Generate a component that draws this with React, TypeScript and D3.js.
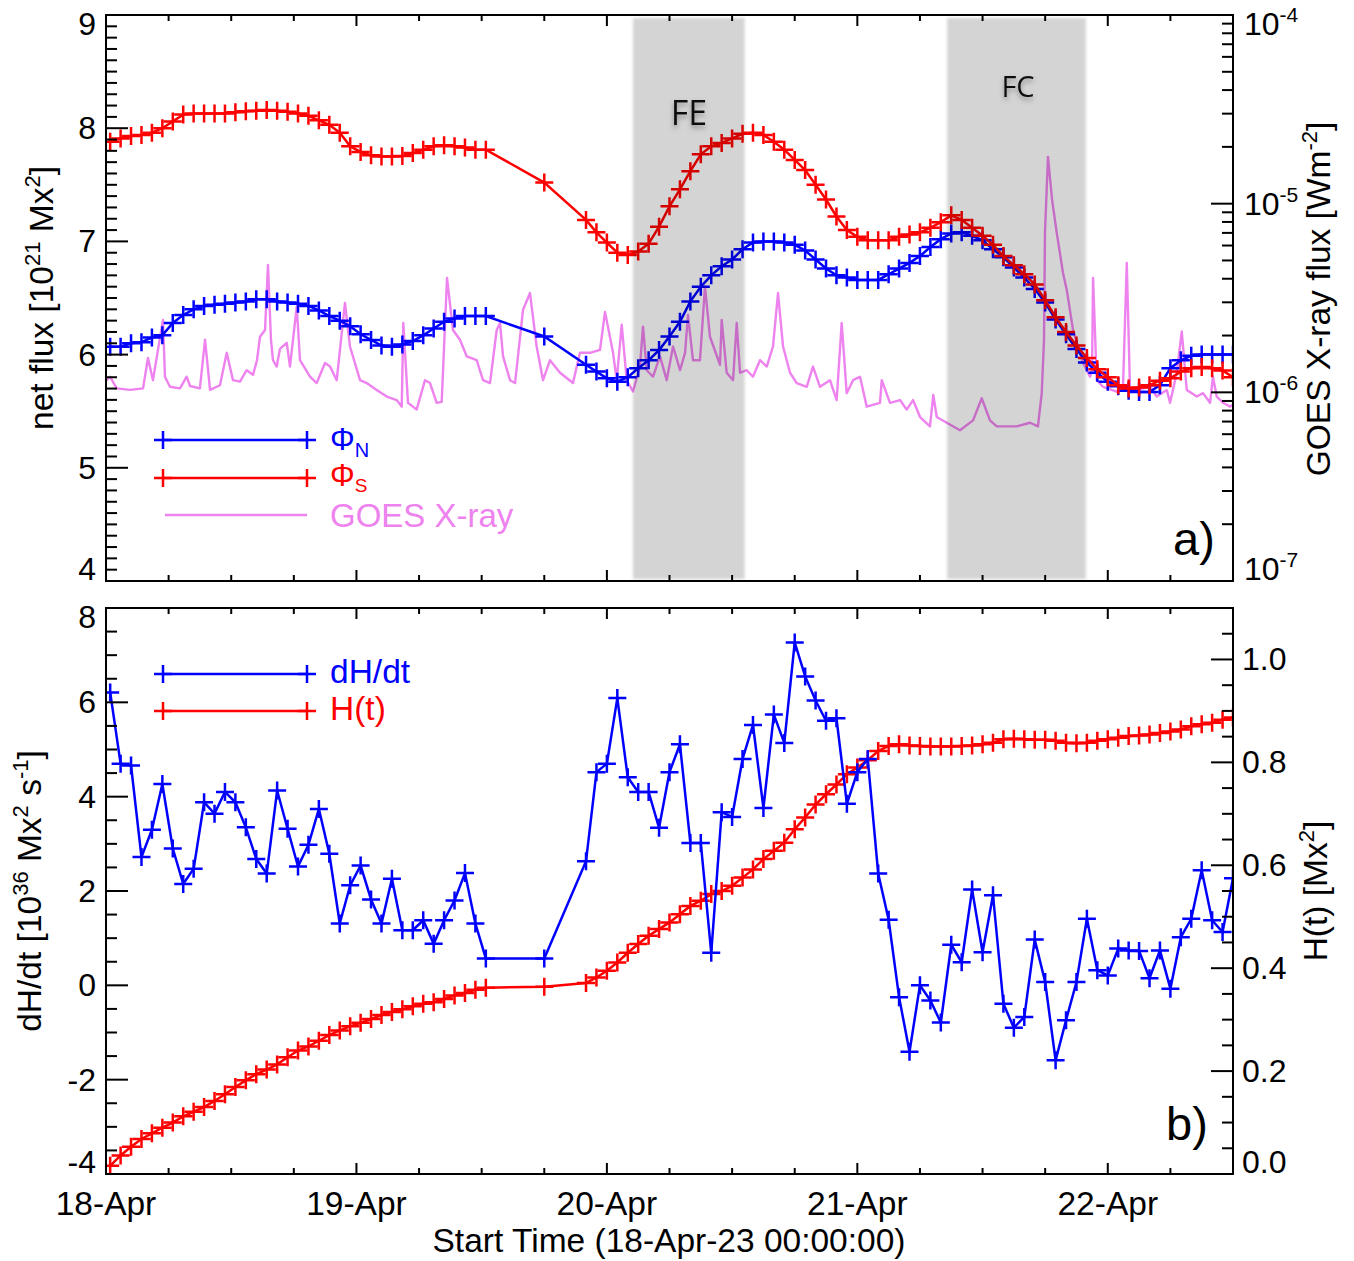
import React from 'react';
import * as d3 from 'd3';

// ---------- data ----------
// time in hours since 18-Apr 00:00
const hours: number[] = [
  0.4, 1.4, 2.4, 3.4, 4.4, 5.4, 6.4, 7.4, 8.4, 9.4, 10.4, 11.4, 12.4, 13.4, 14.4, 15.4, 16.4, 17.4, 18.4,
  19.4, 20.4, 21.4, 22.4, 23.4, 24.4, 25.4, 26.4, 27.4, 28.4, 29.4, 30.4, 31.4, 32.4, 33.4, 34.4, 35.4, 36.4,
  42,
  46, 47, 48, 49, 50, 51, 52, 53, 54, 55, 56, 57, 58, 59, 60, 61, 62, 63, 64, 65, 66, 67, 68, 69, 70,
  71, 72, 73, 74, 75, 76, 77, 78, 79, 80, 81, 82, 83, 84, 85, 86, 87, 88, 89, 90, 91, 92, 93, 94, 95,
  96, 97, 98, 99, 100, 101, 102, 103, 104, 105, 106, 107, 108,
];

// net flux, 10^21 Mx^2
const phiN: number[] = [
  6.07, 6.07, 6.10, 6.11, 6.15, 6.17, 6.28, 6.35, 6.40, 6.43, 6.44, 6.45, 6.46, 6.47, 6.49, 6.49, 6.47, 6.46, 6.45,
  6.43, 6.39, 6.34, 6.30, 6.25, 6.18, 6.13, 6.08, 6.07, 6.09, 6.12, 6.17, 6.23, 6.29, 6.32, 6.34, 6.34, 6.34,
  6.16,
  5.91, 5.85, 5.79, 5.76, 5.80, 5.88, 5.95, 6.04, 6.16, 6.29, 6.47, 6.60, 6.70, 6.78, 6.84, 6.93, 6.99, 7.00, 7.00,
  6.99, 6.97, 6.92, 6.84, 6.76, 6.70, 6.68, 6.66, 6.66, 6.66, 6.71, 6.76, 6.81, 6.87, 6.95, 7.02, 7.07, 7.08, 7.05,
  7.01, 6.93, 6.86, 6.77, 6.68, 6.58, 6.46, 6.31, 6.18, 6.05, 5.93, 5.84, 5.76, 5.72, 5.68, 5.67, 5.67, 5.73, 5.88,
  5.95, 5.99, 6.00, 6.00, 6.00, 6.00,
];
const phiS: number[] = [
  7.88, 7.91, 7.93, 7.94, 7.96, 8.00, 8.06, 8.12, 8.13, 8.13, 8.13, 8.13, 8.14, 8.15, 8.155, 8.16, 8.155, 8.145, 8.13,
  8.11, 8.07, 8.03, 7.96, 7.84, 7.79, 7.76, 7.75, 7.75, 7.755, 7.78, 7.81, 7.84, 7.85, 7.84, 7.83, 7.81, 7.81,
  7.52,
  7.19, 7.08, 6.99, 6.90, 6.88, 6.91, 6.98, 7.13, 7.31, 7.46, 7.62, 7.77, 7.84, 7.87, 7.91, 7.95, 7.96, 7.94, 7.88,
  7.81, 7.72, 7.63, 7.50, 7.37, 7.22, 7.10, 7.04, 7.01, 7.01, 7.01, 7.04, 7.06, 7.08, 7.12, 7.17, 7.23, 7.19, 7.12,
  7.05, 6.97, 6.87, 6.79, 6.71, 6.62, 6.48, 6.33, 6.20, 6.08, 5.97, 5.87, 5.80, 5.73, 5.70, 5.71, 5.73, 5.77, 5.79,
  5.85, 5.88, 5.89, 5.88, 5.86, 5.80,
];

// helicity injection rate, 10^36 Mx^2 s^-1
const dHdt: number[] = [
  6.21, 4.70, 4.66, 2.72, 3.30, 4.27, 2.90, 2.15, 2.47, 3.88, 3.64, 4.10, 3.88, 3.35, 2.68, 2.37, 4.13, 3.32, 2.52,
  2.98, 3.74, 2.79, 1.31, 2.12, 2.54, 1.82, 1.31, 2.26, 1.17, 1.17, 1.38, 0.88, 1.38, 1.80, 2.38, 1.31, 0.57,
  0.57,
  2.63, 4.52, 4.70, 6.09, 4.41, 4.10, 4.10, 3.34, 4.52, 5.11, 3.02, 3.02, 0.69, 3.67, 3.57, 4.80, 5.52, 3.76, 5.74,
  5.14, 7.27, 6.55, 6.04, 5.61, 5.66, 3.85, 4.52, 4.80, 2.37, 1.39, -0.25, -1.41, 0.0, -0.32, -0.79, 0.86, 0.49, 2.03,
  0.70, 1.91, -0.39, -0.90, -0.67, 0.97, 0.07, -1.59, -0.74, 0.07, 1.41, 0.32, 0.21, 0.78, 0.74, 0.73, 0.15, 0.74,
  -0.07, 1.02, 1.41, 2.44, 1.38, 1.13, 2.27,
];
// accumulated helicity, Mx^2 (right axis)
const helicity: number[] = [
  0.016, 0.036, 0.053, 0.068, 0.079, 0.090, 0.100, 0.112, 0.121, 0.130, 0.142, 0.155, 0.169, 0.182, 0.194, 0.203,
  0.213, 0.227, 0.240, 0.248, 0.259, 0.270, 0.279, 0.287, 0.294, 0.301, 0.309, 0.315, 0.320, 0.326, 0.331, 0.334,
  0.340, 0.347, 0.352, 0.358, 0.362,
  0.364,
  0.371, 0.382, 0.395, 0.411, 0.430, 0.447, 0.463, 0.476, 0.489, 0.505, 0.521, 0.531, 0.544, 0.550, 0.560, 0.576,
  0.592, 0.612, 0.628, 0.644, 0.670, 0.693, 0.718, 0.738, 0.757, 0.777, 0.790, 0.804, 0.822, 0.832, 0.835, 0.833,
  0.832, 0.831, 0.831, 0.831, 0.832, 0.833, 0.835, 0.838, 0.845, 0.846, 0.845, 0.844, 0.844, 0.842, 0.838, 0.837,
  0.838, 0.842, 0.845, 0.848, 0.851, 0.852, 0.854, 0.857, 0.860, 0.864, 0.870, 0.874, 0.877, 0.883, 0.887,
];

// GOES X-ray flux (W m^-2)
const goesHours: number[] = [
  0.07, 0.38, 1.03, 2.3, 3.55, 4.02, 4.5, 5.46, 5.65, 6.13, 7.09, 7.73, 8.05, 9.0, 9.49, 9.97, 10.92, 11.57, 12.17,
  12.84, 13.48, 14.09, 14.47, 14.76, 15.24, 15.52, 15.81, 16.0, 16.36, 16.67, 17.32, 17.63, 18.28, 18.59, 19.55,
  20.19, 20.99, 21.47, 22.11, 22.9, 23.38, 24.34, 24.98, 25.94, 26.9, 27.86, 28.34, 28.49, 28.94, 29.77, 30.57,
  31.05, 31.69, 32.17, 32.68, 33.25, 33.92, 34.57, 35.52, 36.13, 36.8, 37.44, 37.76, 38.05, 38.72, 39.2, 39.96,
  40.63, 41.27, 41.88, 42.55, 43.51, 44.75, 45.42, 46.38, 47.34, 47.82, 48.59, 48.94, 49.42, 49.9, 50.5, 51.17,
  51.46, 51.82, 52.42, 53.09, 53.73, 54.34, 55.01, 55.49, 55.77, 56.25, 56.92, 57.4, 57.88, 58.84, 59.0, 59.48,
  60.09, 60.44, 60.76, 61.4, 62.0, 62.67, 63.32, 63.92, 64.4, 64.88, 65.55, 66.19, 67.15, 67.75, 68.42, 69.38,
  70.02, 70.5, 70.98, 71.59, 72.26, 72.9, 74.17, 74.34, 75.13, 76.09, 76.73, 77.34, 78.01, 78.96, 79.28, 79.61,
  80.57, 81.84, 83.09, 83.92, 84.71, 85.36, 87.27, 88.55, 89.31, 89.67, 89.89, 89.98, 90.27, 90.66, 91.11, 91.71,
  92.07, 92.67, 93.63, 94.3, 94.49, 94.59, 94.94, 95.54, 96.86, 97.46, 97.82, 98.13, 98.77, 100.05, 100.69, 101.65,
  101.97, 102.61, 103.09, 103.57, 104.53, 105.13, 105.8, 106.08, 106.44, 107.05, 107.72, 108.0,
];
const goesFlux: number[] = [
  1.16e-6, 1.21e-6, 1.05e-6, 1.03e-6, 1.05e-6, 1.52e-6, 1.16e-6, 2.42e-6, 1.21e-6, 1.07e-6, 1.05e-6, 1.21e-6, 1.08e-6,
  1.05e-6, 1.90e-6, 1.03e-6, 1.09e-6, 1.62e-6, 1.16e-6, 1.14e-6, 1.31e-6, 1.24e-6, 1.48e-6, 1.97e-6, 2.14e-6, 4.73e-6,
  1.90e-6, 1.48e-6, 1.37e-6, 1.70e-6, 1.83e-6, 1.37e-6, 2.85e-6, 1.48e-6, 1.21e-6, 1.12e-6, 1.43e-6, 1.37e-6, 1.16e-6,
  2.98e-6, 1.75e-6, 1.16e-6, 1.12e-6, 1.03e-6, 9.5e-7, 9.1e-7, 8.4e-7, 2.33e-6, 8.8e-7, 8.1e-7, 1.16e-6, 1.12e-6,
  8.8e-7, 8.9e-7, 4.04e-6, 2.14e-6, 1.90e-6, 1.55e-6, 1.48e-6, 1.16e-6, 1.12e-6, 2.14e-6, 2.33e-6, 1.55e-6, 1.16e-6,
  1.12e-6, 2.73e-6, 3.36e-6, 1.75e-6, 1.16e-6, 1.48e-6, 1.27e-6, 1.12e-6, 1.62e-6, 1.62e-6, 1.68e-6, 2.67e-6, 1.62e-6,
  1.16e-6, 2.28e-6, 1.16e-6, 1.01e-6, 1.37e-6, 2.23e-6, 1.31e-6, 1.21e-6, 1.55e-6, 1.16e-6, 1.75e-6, 1.31e-6, 1.62e-6,
  2.57e-6, 1.48e-6, 1.48e-6, 3.63e-6, 1.97e-6, 1.40e-6, 2.42e-6, 1.27e-6, 1.16e-6, 2.33e-6, 1.27e-6, 1.31e-6, 1.21e-6,
  1.48e-6, 1.37e-6, 1.75e-6, 3.36e-6, 1.75e-6, 1.27e-6, 1.12e-6, 1.07e-6, 1.37e-6, 1.07e-6, 1.16e-6, 9.1e-7, 2.33e-6,
  9.9e-7, 1.16e-6, 1.21e-6, 8.4e-7, 8.8e-7, 1.16e-6, 8.8e-7, 9.1e-7, 8.1e-7, 9.1e-7, 7.4e-7, 6.6e-7, 9.7e-7, 7.4e-7,
  6.9e-7, 6.3e-7, 7.1e-7, 9.3e-7, 7.1e-7, 6.6e-7, 6.6e-7, 6.9e-7, 6.6e-7, 9.9e-7, 1.90e-6, 7.0e-6, 1.77e-5, 1.05e-5,
  7.0e-6, 4.29e-6, 3.49e-6, 2.14e-6, 1.43e-6, 1.21e-6, 1.31e-6, 4.04e-6, 1.16e-6, 1.07e-6, 1.01e-6, 1.07e-6, 4.85e-6,
  1.03e-6, 1.03e-6, 1.07e-6, 9.5e-7, 1.03e-6, 8.8e-7, 1.27e-6, 2.10e-6, 1.03e-6, 9.5e-7, 9.9e-7, 8.8e-7, 1.21e-6,
  9.5e-7, 8.8e-7, 8.4e-7, 8.6e-7,
];

// shaded intervals (hours)
const bandLabels: string[] = ['FE', 'FC'];
const bandStart: number[] = [50.5, 80.6];
const bandEnd: number[] = [61.2, 93.9];

const dayLabels: string[] = ['18-Apr', '19-Apr', '20-Apr', '21-Apr', '22-Apr'];
const dayHours: number[] = [0, 24, 48, 72, 96];
const fluxTicks: number[] = [4, 5, 6, 7, 8, 9];
const goesTicks: number[] = [1e-7, 1e-6, 1e-5, 1e-4];
const dhTicks: number[] = [-4, -2, 0, 2, 4, 6, 8];
const hTicks: number[] = [0, 0.2, 0.4, 0.6, 0.8, 1.0];

// ---------- component ----------
const FONT = 'Liberation Sans, Arial, Helvetica, sans-serif';
const BLUE = '#0000ff';
const RED = '#ff0000';
const VIOLET = '#ee82ee';

function cross(cx: number, cy: number, s = 9) {
  return `M${cx - s},${cy}H${cx + s}M${cx},${cy - s}V${cy + s}`;
}

export default function App() {
  const L = 106, R = 1233;
  const aTop = 15, aBot = 581;
  const bTop = 608, bBot = 1174;

  const x = d3.scaleLinear().domain([0, 108]).range([L, R]);
  const yA = d3.scaleLinear().domain([4, 9]).range([aBot, aTop]);
  const yG = d3.scaleLog().domain([1e-7, 1e-4]).range([aBot, aTop]);
  const yB = d3.scaleLinear().domain([-4, 8]).range([bBot, bTop]);
  const yH = d3.scaleLinear().domain([0, 1.1]).range([bBot, bTop]);

  const mk = (vals: number[], ys: (v: number) => number) =>
    d3.line<number>().x((_, i) => x(hours[i])).y((v) => ys(v))(vals) as string;
  const marks = (vals: number[], ys: (v: number) => number) =>
    vals.map((v, i) => cross(x(hours[i]), ys(v))).join('');

  const goesPath = d3
    .line<number>()
    .x((_, i) => x(goesHours[i]))
    .y((v) => yG(v))(goesFlux) as string;

  const xMinor = d3.range(0, 108.01, 6);

  const sw = 2;

  const xTicks = (top: number, bot: number) =>
    xMinor.map((h) => {
      const major = h % 24 === 0;
      const len = major ? 11 : 6;
      return (
        <g key={`xt${top}-${h}`}>
          <line x1={x(h)} x2={x(h)} y1={bot} y2={bot - len} stroke="#000" strokeWidth={sw} />
          <line x1={x(h)} x2={x(h)} y1={top} y2={top + len} stroke="#000" strokeWidth={sw} />
        </g>
      );
    });

  const aMinor = d3.range(4, 9.001, 0.1);
  const bMinor = d3.range(-4, 8.001, 0.5);
  const hMinor = d3.range(0, 1.1001, 0.05);
  const gMinor: number[] = [];
  [-7, -6, -5].forEach((k) => {
    for (let m = 1; m <= 9; m++) gMinor.push(m * Math.pow(10, k));
  });
  gMinor.push(1e-4);

  const tickFs = 32;
  const titleFs = 33.5;

  return (
    <svg
      width={1354}
      height={1261}
      style={{ position: 'absolute', left: 0, top: 0, background: '#fff' }}
      fontFamily={FONT}
    >
      <defs>
        <filter id="soft" x="-10%" y="-10%" width="120%" height="120%">
          <feGaussianBlur stdDeviation="1.5" />
        </filter>
        <filter id="shadow" x="-30%" y="-30%" width="160%" height="180%">
          <feDropShadow dx="0" dy="3" stdDeviation="2.5" floodColor="#555" floodOpacity="0.6" />
        </filter>
        <clipPath id="clipA">
          <rect x={L} y={aTop} width={R - L} height={aBot - aTop} />
        </clipPath>
        <clipPath id="clipB">
          <rect x={L} y={bTop} width={R - L} height={bBot - bTop} />
        </clipPath>
      </defs>
      <rect x={0} y={0} width={1354} height={1261} fill="#fff" />

      {/* ---------- panel a ---------- */}
      <g clipPath="url(#clipA)">
        <path d={goesPath} fill="none" stroke={VIOLET} strokeWidth={2.4} strokeLinejoin="round" />
        <path d={mk(phiN, yA)} fill="none" stroke={BLUE} strokeWidth={2.5} />
        <path d={marks(phiN, yA)} fill="none" stroke={BLUE} strokeWidth={2.5} />
        <path d={mk(phiS, yA)} fill="none" stroke={RED} strokeWidth={2.5} />
        <path d={marks(phiS, yA)} fill="none" stroke={RED} strokeWidth={2.5} />
      </g>
      {bandStart.map((s, i) => (
        <rect
          key={`band${i}`}
          x={x(s)}
          y={18}
          width={x(bandEnd[i]) - x(s)}
          height={aBot - 20}
          fill="#000"
          fillOpacity={0.17}
          filter="url(#soft)"
        />
      ))}
      <text x={689} y={125} textAnchor="middle" fontFamily="Open Sans, sans-serif" fontSize={34} fill="#111" filter="url(#shadow)">
        {bandLabels[0]}
      </text>
      <text x={1018} y={97} textAnchor="middle" fontFamily="Open Sans, sans-serif" fontSize={29} fill="#111" filter="url(#shadow)">
        {bandLabels[1]}
      </text>

      {/* axes frame a */}
      <rect x={L} y={aTop} width={R - L} height={aBot - aTop} fill="none" stroke="#000" strokeWidth={sw} />
      {xTicks(aTop, aBot)}
      {aMinor.map((v, i) => {
        const major = Math.abs(v - Math.round(v)) < 1e-6;
        return <line key={`am${i}`} x1={L} x2={L + (major ? 22 : 11)} y1={yA(v)} y2={yA(v)} stroke="#000" strokeWidth={sw} />;
      })}
      {fluxTicks.map((v) => {
        let yy = yA(v) + 11;
        if (v === 9) yy = 35;
        if (v === 4) yy = 580;
        return (
          <text key={`al${v}`} x={96} y={yy} textAnchor="end" fontSize={tickFs}>
            {v}
          </text>
        );
      })}
      {gMinor.map((v, i) => {
        const major = Math.abs(Math.log10(v) - Math.round(Math.log10(v))) < 1e-6;
        return <line key={`gm${i}`} x1={R} x2={R - (major ? 22 : 11)} y1={yG(v)} y2={yG(v)} stroke="#000" strokeWidth={sw} />;
      })}
      {goesTicks.map((v) => {
        const e = Math.round(Math.log10(v));
        let yy = yG(v) + 11;
        if (e === -4) yy = 35;
        if (e === -7) yy = 580;
        return (
          <text key={`gl${e}`} x={1244} y={yy} fontSize={tickFs}>
            10
            <tspan dy={-13} fontSize={21}>
              {e}
            </tspan>
          </text>
        );
      })}
      <text transform="translate(53,298) rotate(-90)" textAnchor="middle" fontSize={titleFs}>
        net flux [10
        <tspan dy={-13} fontSize={22}>21</tspan>
        <tspan dy={13}> Mx</tspan>
        <tspan dy={-13} fontSize={22}>2</tspan>
        <tspan dy={13}>]</tspan>
      </text>
      <text transform="translate(1330,299) rotate(-90)" textAnchor="middle" fontSize={titleFs}>
        GOES X-ray flux [Wm
        <tspan dy={-13} fontSize={22}>-2</tspan>
        <tspan dy={13}>]</tspan>
      </text>
      <text x={1173} y={555} fontSize={47}>
        a)
      </text>

      {/* legend a */}
      <path d={`M163,440H307`} stroke={BLUE} strokeWidth={2.5} />
      <path d={cross(163, 440) + cross(307, 440)} stroke={BLUE} strokeWidth={2.5} />
      <text x={330} y={450} fontSize={31} fill={BLUE}>
        Φ<tspan dy={7} fontSize={20}>N</tspan>
      </text>
      <path d={`M163,478H307`} stroke={RED} strokeWidth={2.5} />
      <path d={cross(163, 478) + cross(307, 478)} stroke={RED} strokeWidth={2.5} />
      <text x={330} y={486} fontSize={31} fill={RED}>
        Φ<tspan dy={6} fontSize={19}>S</tspan>
      </text>
      <path d={`M165,515H307`} stroke={VIOLET} strokeWidth={2.5} />
      <text x={330} y={527} fontSize={33} fill={VIOLET}>
        GOES X-ray
      </text>

      {/* ---------- panel b ---------- */}
      <g clipPath="url(#clipB)">
        <path d={mk(helicity, yH)} fill="none" stroke={RED} strokeWidth={2.5} />
        <path d={marks(helicity, yH)} fill="none" stroke={RED} strokeWidth={2.5} />
        <path d={mk(dHdt, yB)} fill="none" stroke={BLUE} strokeWidth={2.5} />
        <path d={marks(dHdt, yB)} fill="none" stroke={BLUE} strokeWidth={2.5} />
      </g>
      <rect x={L} y={bTop} width={R - L} height={bBot - bTop} fill="none" stroke="#000" strokeWidth={sw} />
      {xTicks(bTop, bBot)}
      {bMinor.map((v, i) => {
        const major = Math.abs(v / 2 - Math.round(v / 2)) < 1e-6;
        return <line key={`bm${i}`} x1={L} x2={L + (major ? 22 : 11)} y1={yB(v)} y2={yB(v)} stroke="#000" strokeWidth={sw} />;
      })}
      {dhTicks.map((v) => {
        let yy = yB(v) + 11;
        if (v === 8) yy = 628;
        if (v === -4) yy = 1173;
        return (
          <text key={`bl${v}`} x={96} y={yy} textAnchor="end" fontSize={tickFs}>
            {v}
          </text>
        );
      })}
      {hMinor.map((v, i) => {
        const major = Math.abs(v * 5 - Math.round(v * 5)) < 1e-6;
        return <line key={`hm${i}`} x1={R} x2={R - (major ? 22 : 11)} y1={yH(v)} y2={yH(v)} stroke="#000" strokeWidth={sw} />;
      })}
      {hTicks.map((v) => {
        let yy = yH(v) + 11;
        if (v === 0) yy = 1173;
        return (
          <text key={`hl${v}`} x={1242} y={yy} fontSize={tickFs}>
            {v.toFixed(1)}
          </text>
        );
      })}
      <text transform="translate(41,891) rotate(-90)" textAnchor="middle" fontSize={titleFs}>
        dH/dt [10
        <tspan dy={-13} fontSize={22}>36</tspan>
        <tspan dy={13}> Mx</tspan>
        <tspan dy={-13} fontSize={22}>2</tspan>
        <tspan dy={13}> s</tspan>
        <tspan dy={-13} fontSize={22}>-1</tspan>
        <tspan dy={13}>]</tspan>
      </text>
      <text transform="translate(1327,891) rotate(-90)" textAnchor="middle" fontSize={titleFs}>
        H(t) [Mx
        <tspan dy={-13} fontSize={22}>2</tspan>
        <tspan dy={13}>]</tspan>
      </text>
      <text x={1166} y={1140} fontSize={47}>
        b)
      </text>

      {/* legend b */}
      <path d={`M163,674H307`} stroke={BLUE} strokeWidth={2.5} />
      <path d={cross(163, 674) + cross(307, 674)} stroke={BLUE} strokeWidth={2.5} />
      <text x={330} y={683} fontSize={33.5} fill={BLUE}>
        dH/dt
      </text>
      <path d={`M163,711H307`} stroke={RED} strokeWidth={2.5} />
      <path d={cross(163, 711) + cross(307, 711)} stroke={RED} strokeWidth={2.5} />
      <text x={330} y={720} fontSize={33.5} fill={RED}>
        H(t)
      </text>

      {/* x axis labels */}
      {dayHours.map((h, i) => (
        <text key={`dl${h}`} x={x(h)} y={1215} textAnchor="middle" fontSize={titleFs}>
          {dayLabels[i]}
        </text>
      ))}
      <text x={669} y={1252} textAnchor="middle" fontSize={titleFs}>
        Start Time (18-Apr-23 00:00:00)
      </text>
    </svg>
  );
}
